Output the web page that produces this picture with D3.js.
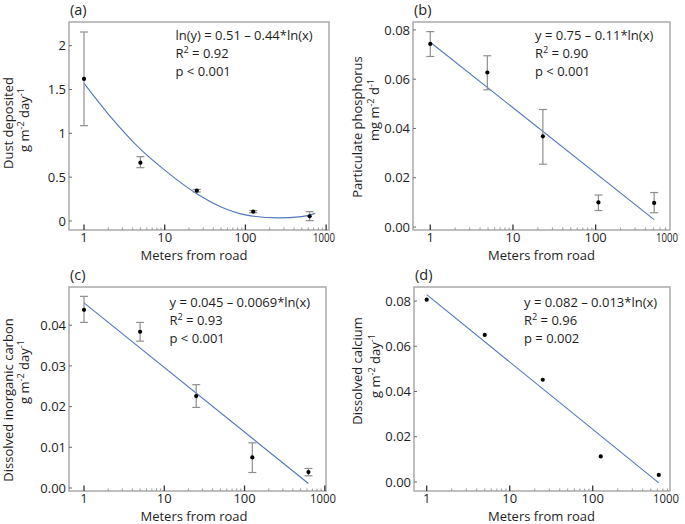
<!DOCTYPE html>
<meta charset="utf-8">
<title>Road dust deposition</title>
<style>
  body { margin: 0; background: #fff; }
  svg text { font-family: "Open Sans", "Noto Sans", sans-serif; fill: #1e1e1e; }
</style>
<body>
<div id="container"></div>
<script src="https://cdn.jsdelivr.net/npm/d3@7"></script>
<script>

// distances from road (m)
const distance = [1, 5, 25, 125, 625];
const distanceP = [1, 4.9, 23, 108, 510];

// (a) dust deposited, g m-2 day-1
const dustMean = [1.62, 0.665, 0.346, 0.106, 0.053];
const dustLo   = [1.087, 0.608, 0.33, 0.095, 0.004];
const dustHi   = [2.156, 0.734, 0.36, 0.118, 0.106];
const dustFitX = [1, 2, 5, 10, 25, 50, 100, 250, 500, 730];
const dustFitY = [1.57, 1.22, 0.82, 0.58, 0.31, 0.16, 0.07, 0.035, 0.05, 0.087];

// (b) particulate phosphorus, mg m-2 d-1
const phosMean = [0.0743, 0.0627, 0.0368, 0.0100, 0.0098];
const phosLo   = [0.0692, 0.0557, 0.0255, 0.0067, 0.0058];
const phosHi   = [0.0793, 0.0695, 0.0477, 0.0130, 0.0140];
const phosFitX = [1, 510];
const phosFitY = [0.0750, 0.0030];

// (c) dissolved inorganic carbon, g m-2 day-1
const dicMean = [0.0438, 0.0384, 0.0226, 0.0075, 0.0039];
const dicLo   = [0.0407, 0.0361, 0.0198, 0.0038, 0.0030];
const dicHi   = [0.0471, 0.0407, 0.0254, 0.0111, 0.0048];
const dicFitX = [1, 625];
const dicFitY = [0.0455, 0.0011];

// (d) dissolved calcium, g m-2 day-1
const caMean = [0.0806, 0.0650, 0.0452, 0.0113, 0.0031];
const caFitX = [1, 625];
const caFitY = [0.0828, -0.0004];

const xTickValues = [1, 10, 100, 1000];
const yTicksA = [0, 0.5, 1, 1.5, 2];
const yTicksB = [0, 0.02, 0.04, 0.06, 0.08];
const yTicksC = [0, 0.01, 0.02, 0.03, 0.04];
const yTicksD = [0, 0.02, 0.04, 0.06, 0.08];

const width = 685, height = 524;

const svg = d3.select('#container').append('svg')
  .attr('width', width)
  .attr('height', height);

// text with superscript pieces: parts = [[text, isSup], ...]
function richText(g, x, y, parts, size) {
  const t = g.append('text').attr('x', x).attr('y', y).style('font-size', size + 'px');
  let up = false;
  parts.forEach(([s, sup]) => {
    const sp = t.append('tspan').text(s);
    if (sup) {
      sp.style('font-size', (size * 0.7) + 'px');
      if (!up) { sp.attr('dy', -5); up = true; }
    } else if (up) {
      sp.attr('dy', 5); up = false;
    }
  });
  return t;
}

function panel(cfg) {
  const [l, t, r, b] = cfg.frame;
  const g = svg.append('g');

  const x = d3.scaleLog().domain(cfg.xDomain).range([l, r]);
  const y = d3.scaleLinear().domain(cfg.yDomain).range([b, t]);

  // frame
  g.append('rect')
    .attr('x', l).attr('y', t)
    .attr('width', r - l).attr('height', b - t)
    .attr('fill', 'none')
    .attr('stroke', '#a4a4a4')
    .attr('stroke-width', 1.4);

  // minor x ticks
  const minor = [];
  [1, 10, 100].forEach(d => d3.range(2, 10).forEach(k => minor.push(k * d)));
  g.selectAll('.minor').data(minor.filter(v => x(v) < r - 1)).join('line')
    .attr('x1', d => x(d)).attr('x2', d => x(d))
    .attr('y1', b).attr('y2', b - 2.5)
    .attr('stroke', '#9a9a9a').attr('stroke-width', 1);

  // major x ticks + labels
  xTickValues.forEach(v => {
    const px = x(v);
    if (px <= r - 1) {
      g.append('line')
        .attr('x1', px).attr('x2', px)
        .attr('y1', b).attr('y2', b - 5.5)
        .attr('stroke', '#333').attr('stroke-width', 1.3);
    }
    const lab = g.append('text')
      .attr('y', b + 11.5)
      .style('font-size', '13px')
      .text(v);
    if (v === 1000) {
      lab.attr('x', r + cfg.kEnd).attr('text-anchor', 'end')
        .attr('textLength', cfg.kLen).attr('lengthAdjust', 'spacingAndGlyphs');
    } else {
      lab.attr('x', px).attr('text-anchor', 'middle');
    }
  });

  // y ticks + labels
  cfg.yTicks.forEach(v => {
    g.append('line')
      .attr('x1', l).attr('x2', l + 3)
      .attr('y1', y(v)).attr('y2', y(v))
      .attr('stroke', '#6a6a6a').attr('stroke-width', 1);
    g.append('text')
      .attr('x', l - 3)
      .attr('y', y(v))
      .attr('dy', '0.36em')
      .attr('text-anchor', 'end')
      .style('font-size', '13px')
      .text(cfg.yFmt(v));
  });

  // fit line
  const fit = cfg.fitX.map((d, i) => [d, cfg.fitY[i]]);
  g.append('path')
    .datum(fit)
    .attr('fill', 'none')
    .attr('stroke', '#5277bb')
    .attr('stroke-width', 1.1)
    .attr('d', d3.line().x(d => x(d[0])).y(d => y(d[1])).curve(cfg.curve || d3.curveLinear));

  // error bars
  if (cfg.lo) {
    const bars = cfg.xs.map((d, i) => ({ x: d, lo: cfg.lo[i], hi: cfg.hi[i] }));
    const eb = g.selectAll('.eb').data(bars).join('g').attr('stroke', '#8f8f8f').attr('stroke-width', 1.2);
    eb.append('line').attr('x1', d => x(d.x)).attr('x2', d => x(d.x)).attr('y1', d => y(d.lo)).attr('y2', d => y(d.hi));
    eb.append('line').attr('x1', d => x(d.x) - 4).attr('x2', d => x(d.x) + 4).attr('y1', d => y(d.lo)).attr('y2', d => y(d.lo));
    eb.append('line').attr('x1', d => x(d.x) - 4).attr('x2', d => x(d.x) + 4).attr('y1', d => y(d.hi)).attr('y2', d => y(d.hi));
  }

  // points
  g.selectAll('.pt').data(cfg.xs.map((d, i) => [d, cfg.ys[i]])).join('circle')
    .attr('cx', d => x(d[0])).attr('cy', d => y(d[1]))
    .attr('r', 2.1).attr('fill', '#000');

  // panel letter
  g.append('text').attr('x', l + 1).attr('y', t - 7).style('font-size', '14.5px').text(cfg.letter);

  // annotation
  cfg.note.forEach((parts, i) => richText(g, cfg.noteX, t + cfg.noteTop + i * 18, parts, 13));

  // x title
  g.append('text')
    .attr('x', cfg.xTitleX).attr('y', b + 29.5)
    .attr('text-anchor', 'middle')
    .style('font-size', '13px')
    .text('Meters from road');

  // y title, two lines
  cfg.yTitle.forEach(line => {
    richText(g, 0, 0, line.parts, 13)
      .attr('text-anchor', 'middle')
      .attr('transform', `translate(${line.bx},${line.cy}) rotate(-90)`);
  });
}

const fmt2 = d3.format('.2f');

panel({
  letter: '(a)', frame: [69, 22, 329, 230],
  xDomain: [0.652, 1086], yDomain: [-0.103, 2.27],
  yTicks: yTicksA, yFmt: d => String(d),
  kEnd: 6, kLen: 22,
  xs: distance, ys: dustMean, lo: dustLo, hi: dustHi,
  fitX: dustFitX, fitY: dustFitY, curve: d3.curveMonotoneX,
  noteX: 175.5, noteTop: 18,
  note: [[['ln(y) = 0.51 – 0.44*ln(x)']], [['R'], ['2', true], [' = 0.92']], [['p < 0.001']]],
  xTitleX: 194,
  yTitle: [
    { bx: 13, cy: 123, parts: [['Dust deposited']] },
    { bx: 29, cy: 120, parts: [['g m'], ['-2', true], [' day'], ['-1', true]] }
  ]
});

panel({
  letter: '(b)', frame: [413, 22, 670, 230],
  xDomain: [0.618, 793], yDomain: [-0.0012, 0.0832],
  yTicks: yTicksB, yFmt: fmt2,
  kEnd: 8, kLen: 22,
  xs: distanceP, ys: phosMean, lo: phosLo, hi: phosHi,
  fitX: phosFitX, fitY: phosFitY,
  noteX: 535, noteTop: 18,
  note: [[['y = 0.75 – 0.11*ln(x)']], [['R'], ['2', true], [' = 0.90']], [['p < 0.001']]],
  xTitleX: 541.5,
  yTitle: [
    { bx: 362, cy: 127, parts: [['Particulate phosphorus']] },
    { bx: 379, cy: 110, parts: [['mg m'], ['-2', true], [' d'], ['-1', true]] }
  ]
});

panel({
  letter: '(c)', frame: [69, 287, 326, 491],
  xDomain: [0.65, 1035], yDomain: [-0.00074, 0.0494],
  yTicks: yTicksC, yFmt: fmt2,
  kEnd: 10, kLen: 26,
  xs: distance, ys: dicMean, lo: dicLo, hi: dicHi,
  fitX: dicFitX, fitY: dicFitY,
  noteX: 169.5, noteTop: 19.5,
  note: [[['y = 0.045 – 0.0069*ln(x)']], [['R'], ['2', true], [' = 0.93']], [['p < 0.001']]],
  xTitleX: 194,
  yTitle: [
    { bx: 13, cy: 400, parts: [['Dissolved inorganic carbon']] },
    { bx: 29, cy: 372, parts: [['g m'], ['-2', true], [' day'], ['-1', true]] }
  ]
});

panel({
  letter: '(d)', frame: [414, 287, 670, 491],
  xDomain: [0.703, 853], yDomain: [-0.004, 0.0862],
  yTicks: yTicksD, yFmt: fmt2,
  kEnd: 9, kLen: 26,
  xs: distance, ys: caMean,
  fitX: caFitX, fitY: caFitY,
  noteX: 524, noteTop: 19.5,
  note: [[['y = 0.082 – 0.013*ln(x)']], [['R'], ['2', true], [' = 0.96']], [['p = 0.002']]],
  xTitleX: 541.5,
  yTitle: [
    { bx: 362, cy: 371, parts: [['Dissolved calcium']] },
    { bx: 380, cy: 366, parts: [['g m'], ['-2', true], [' day'], ['-1', true]] }
  ]
});

</script>
</body>
